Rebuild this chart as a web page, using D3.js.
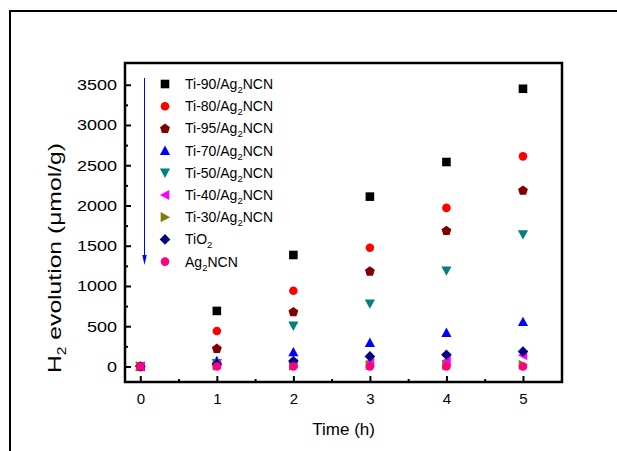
<!DOCTYPE html>
<html>
<head>
<meta charset="utf-8">
<script src="https://cdn.jsdelivr.net/npm/d3@7.9.0/dist/d3.min.js"></script>
<style>
  body { margin: 0; background: #fff; }
  text { font-family: "Liberation Sans", Arial, sans-serif; fill: #000; }
</style>
</head>
<body>
<svg id="chart" width="617" height="451"></svg>
<script>
// Reaction time (h)
const times = [0, 1, 2, 3, 4, 5];

// H2 evolution (umol/g), one array per sample
const ti90 = [0, 690, 1385, 2110, 2540, 3450];
const ti80 = [0, 440, 940, 1475, 1970, 2610];
const ti95 = [0, 225, 680, 1185, 1690, 2190];
const ti70 = [0, 70, 180, 295, 420, 555];
const ti50 = [0, 40, 505, 780, 1190, 1640];
const ti40 = [0, 30, 40, 60, 70, 140];
const ti30 = [0, 10, 10, 15, 15, 20];
const tio2 = [0, 30, 68, 125, 145, 185];
const ag2ncn = [0, 0, 0, 0, 0, 0];

const xTicks = [0, 1, 2, 3, 4, 5];
const yTicks = [0, 500, 1000, 1500, 2000, 2500, 3000, 3500];

// legend names: [main, subscript, tail]
const series = [
  { name: ["Ti-90/Ag", "2", "NCN"], values: ti90, color: "#000000", shape: "square" },
  { name: ["Ti-80/Ag", "2", "NCN"], values: ti80, color: "#ff0000", shape: "circle" },
  { name: ["Ti-95/Ag", "2", "NCN"], values: ti95, color: "#800000", shape: "pentagon" },
  { name: ["Ti-70/Ag", "2", "NCN"], values: ti70, color: "#0000ff", shape: "up" },
  { name: ["Ti-50/Ag", "2", "NCN"], values: ti50, color: "#008080", shape: "down" },
  { name: ["Ti-40/Ag", "2", "NCN"], values: ti40, color: "#ff00ff", shape: "left" },
  { name: ["Ti-30/Ag", "2", "NCN"], values: ti30, color: "#808000", shape: "right" },
  { name: ["TiO", "2", ""], values: tio2, color: "#000080", shape: "diamond" },
  { name: ["Ag", "2", "NCN"], values: ag2ncn, color: "#ff0080", shape: "circle" },
];

const svg = d3.select("#chart");

// outer frame of the figure
svg.append("rect")
  .attr("x", 10).attr("y", 11)
  .attr("width", 640).attr("height", 480)
  .attr("fill", "none").attr("stroke", "#000").attr("stroke-width", 2);

const box = { left: 125, right: 562, top: 63, bottom: 382 };

const x = d3.scaleLinear().domain([-0.2, 5.51]).range([box.left, box.right]);
const y = d3.scaleLinear().domain([-193, 3770]).range([box.bottom, box.top]);

// shape paths centered on 0,0
function shapePath(shape) {
  const s = 4.3;
  switch (shape) {
    case "square": return `M${-s},${-s}H${s}V${s}H${-s}Z`;
    case "circle": return d3.symbol(d3.symbolCircle, 58)();
    case "diamond": return `M0,${-s - 1}L${s + 1},0L0,${s + 1}L${-s - 1},0Z`;
    case "pentagon": {
      const r = 5.2;
      const pts = d3.range(5).map((i) => {
        const a = -Math.PI / 2 + (i * 2 * Math.PI) / 5;
        return [r * Math.cos(a), r * Math.sin(a) + 0.4];
      });
      return "M" + pts.map((p) => p.join(",")).join("L") + "Z";
    }
    case "up": return `M0,${-s - 0.8}L${s + 0.8},${s}L${-s - 0.8},${s}Z`;
    case "down": return `M0,${s + 0.8}L${s + 0.8},${-s}L${-s - 0.8},${-s}Z`;
    case "left": return `M${-s - 0.8},0L${s},${-s - 0.8}L${s},${s + 0.8}Z`;
    case "right": return `M${s + 0.8},0L${-s},${-s - 0.8}L${-s},${s + 0.8}Z`;
  }
}

// data points
series.forEach((sr) => {
  svg.append("g")
    .selectAll("path")
    .data(times.map((t, i) => [t, sr.values[i]]))
    .join("path")
    .attr("transform", (d) => `translate(${x(d[0])},${y(d[1])})`)
    .attr("d", shapePath(sr.shape))
    .attr("fill", sr.color);
});

// axes, ticks pointing inward
const xAxis = svg.append("g").attr("transform", `translate(0,${box.bottom})`);
xAxis.call(d3.axisBottom(x).tickValues(xTicks).tickSize(-6).tickPadding(11).tickFormat(d3.format("d")));
xAxis.append("g").call(d3.axisBottom(x).tickValues(d3.range(0.5, 5.5, 1)).tickSize(-3).tickFormat(""));

const yAxis = svg.append("g").attr("transform", `translate(${box.left},0)`);
yAxis.call(d3.axisLeft(y).tickValues(yTicks).tickSize(-6).tickPadding(8).tickFormat(d3.format("d")));
yAxis.append("g").call(d3.axisLeft(y).tickValues(d3.range(250, 3750, 500)).tickSize(-3).tickFormat(""));

svg.selectAll(".domain").remove();
svg.selectAll(".tick line").attr("stroke", "#000").attr("stroke-width", 2);
svg.selectAll(".tick text")
  .style("font-size", "15px")
  .style("font-family", "Liberation Sans, Arial, sans-serif")
  .attr("fill", "#000");
// y labels in the source are drawn a bit wider
yAxis.selectAll(".tick text")
  .attr("x", -8 / 1.2)
  .attr("transform", "scale(1.2,1)");

// plot frame
svg.append("rect")
  .attr("x", box.left).attr("y", box.top)
  .attr("width", box.right - box.left).attr("height", box.bottom - box.top)
  .attr("fill", "none").attr("stroke", "#000").attr("stroke-width", 2.5);

// axis titles
svg.append("text")
  .attr("x", (x(0) + x(5)) / 2 + 12).attr("y", 435)
  .attr("text-anchor", "middle")
  .style("font-size", "17px")
  .text("Time (h)");

// y title starts at the bottom (level of the 0 label) and runs upward,
// stretched along its length as in the source
const yTitle = svg.append("text")
  .attr("text-anchor", "start")
  .style("font-size", "19px");
yTitle.append("tspan").text("H");
yTitle.append("tspan").attr("dy", 5).style("font-size", "12px").text("2");
yTitle.append("tspan").attr("dy", -5).text(" evolution (\u03bcmol/g)");
const titleW = yTitle.node().getComputedTextLength();
yTitle.attr("transform", `translate(61,373) rotate(-90) scale(${230 / titleW},1)`);

// legend
const legend = svg.append("g");
series.forEach((sr, i) => {
  const ly = 84 + i * 22.2;
  legend.append("path")
    .attr("transform", `translate(165,${ly})`)
    .attr("d", shapePath(sr.shape))
    .attr("fill", sr.color);
  const t = legend.append("text")
    .attr("x", 185).attr("y", ly + 5)
    .style("font-size", "14px");
  t.append("tspan").text(sr.name[0]);
  t.append("tspan").attr("dy", 4).style("font-size", "9.5px").text(sr.name[1]);
  if (sr.name[2]) t.append("tspan").attr("dy", -4).text(sr.name[2]);
});

// blue arrow beside legend
svg.append("line")
  .attr("x1", 144.5).attr("y1", 78)
  .attr("x2", 144.5).attr("y2", 262)
  .attr("stroke", "#0000ff").attr("stroke-width", 1);
svg.append("path")
  .attr("d", "M142.3,255L146.7,255L144.5,265Z")
  .attr("fill", "#0000ff");
</script>
</body>
</html>
